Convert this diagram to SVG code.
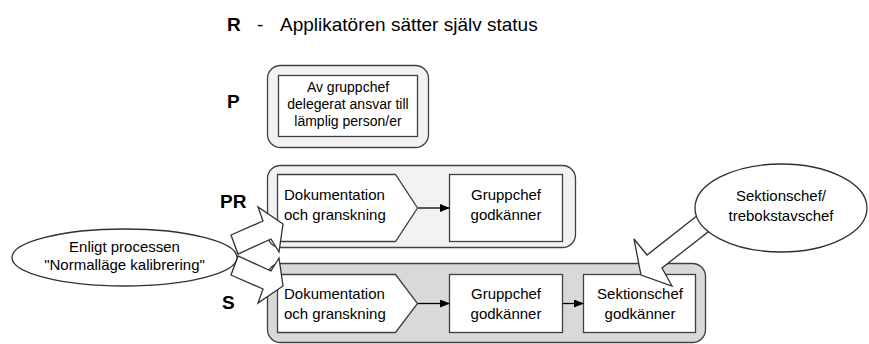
<svg xmlns="http://www.w3.org/2000/svg" width="869" height="344" viewBox="0 0 869 344">
<defs>
<marker id="ah" markerWidth="10" markerHeight="8" refX="9" refY="4" orient="auto" markerUnits="userSpaceOnUse">
<path d="M0,0 L10,4 L0,8 Z" fill="#000"/>
</marker>
</defs>
<style>
text{font-family:"Liberation Sans",Arial,sans-serif;fill:#000}
.t{font-size:15px}
.s{font-size:14px}
.c{text-anchor:middle}
.b{font-weight:bold;font-size:19px}
.cont{stroke:#404040;stroke-width:1.3}
.box{fill:#fff;stroke:#404040;stroke-width:1.3}
.blk{fill:#fff;stroke:#303030;stroke-width:1.3;stroke-linejoin:miter}
.con{stroke:#000;stroke-width:1.3;fill:none;marker-end:url(#ah)}
</style>
<rect width="869" height="344" fill="#fff"/>
<g id="legend">
<text class="b" x="227" y="31">R</text>
<text x="257" y="31" style="font-size:19px">-</text>
<text x="280" y="31" style="font-size:19px">Applikatören sätter själv status</text>
<text class="b" x="227" y="108">P</text>
<text class="b" x="220" y="208">PR</text>
<text class="b" x="222" y="309">S</text>
</g>
<g id="p-container">
<rect class="cont" x="267.5" y="65.5" width="161" height="82" rx="13" fill="#f2f2f2"/>
<rect class="box" x="278.5" y="75.5" width="139" height="61"/>
<text class="s c" x="348" y="92">Av gruppchef</text>
<text class="s c" x="348" y="109">delegerat ansvar till</text>
<text class="s c" x="348" y="126">lämplig person/er</text>
</g>
<g id="pr-container">
<rect class="cont" x="267.5" y="165.5" width="308" height="82" rx="13" fill="#f2f2f2"/>
</g>
<g id="s-container">
<rect class="cont" x="267.5" y="263.5" width="438" height="79" rx="13" fill="#d9d9d9"/>
</g>
<g id="pr-dok">
<path class="box" d="M277.5,174.5 H395.5 L417.5,208 L395.5,241.5 H277.5 Z"/>
<text class="t" x="284" y="200">Dokumentation</text>
<text class="t" x="284" y="220">och granskning</text>
</g>
<g id="pr-grupp">
<rect class="box" x="449.5" y="174.5" width="113" height="67"/>
<text class="t c" x="506" y="200">Gruppchef</text>
<text class="t c" x="506" y="220">godkänner</text>
</g>
<g id="s-dok">
<path class="box" d="M277.5,274.5 H395.5 L417.5,303.5 L395.5,332.5 H277.5 Z"/>
<text class="t" x="284" y="299">Dokumentation</text>
<text class="t" x="284" y="319">och granskning</text>
</g>
<g id="s-grupp">
<rect class="box" x="449.5" y="274.5" width="113" height="58"/>
<text class="t c" x="506" y="299">Gruppchef</text>
<text class="t c" x="506" y="319">godkänner</text>
</g>
<g id="s-sektion">
<rect class="box" x="583.5" y="274.5" width="112" height="58"/>
<text class="t c" x="640" y="299">Sektionschef</text>
<text class="t c" x="640" y="319">godkänner</text>
</g>
<g id="connectors">
<line class="con" x1="418" y1="208" x2="449" y2="208"/>
<line class="con" x1="418" y1="303.5" x2="449" y2="303.5"/>
<line class="con" x1="563" y1="303.5" x2="583" y2="303.5"/>
<polygon class="blk" points="231,235 263,221 258,207 283,224 279,252 271,239 238,254"/>
<polygon class="blk" points="231,275 263,289 258,303 283,286 279,258 271,271 238,256"/>
<polygon class="blk" points="698,215 647,255 634,239 641,275 672,286 662,268 708,232"/>
</g>
<g id="enligt">
<ellipse cx="124.5" cy="257.5" rx="112.5" ry="28.5" fill="#fff" stroke="#303030" stroke-width="1.3"/>
<text class="t c" x="124.5" y="252">Enligt processen</text>
<text class="t c" x="124.5" y="270">"Normalläge kalibrering"</text>
</g>
<g id="sektionschef">
<ellipse cx="781" cy="208" rx="86" ry="44" fill="#fff" stroke="#303030" stroke-width="1.3"/>
<text class="t c" x="781" y="201">Sektionschef/</text>
<text class="t c" x="781" y="221">trebokstavschef</text>
</g>
</svg>
